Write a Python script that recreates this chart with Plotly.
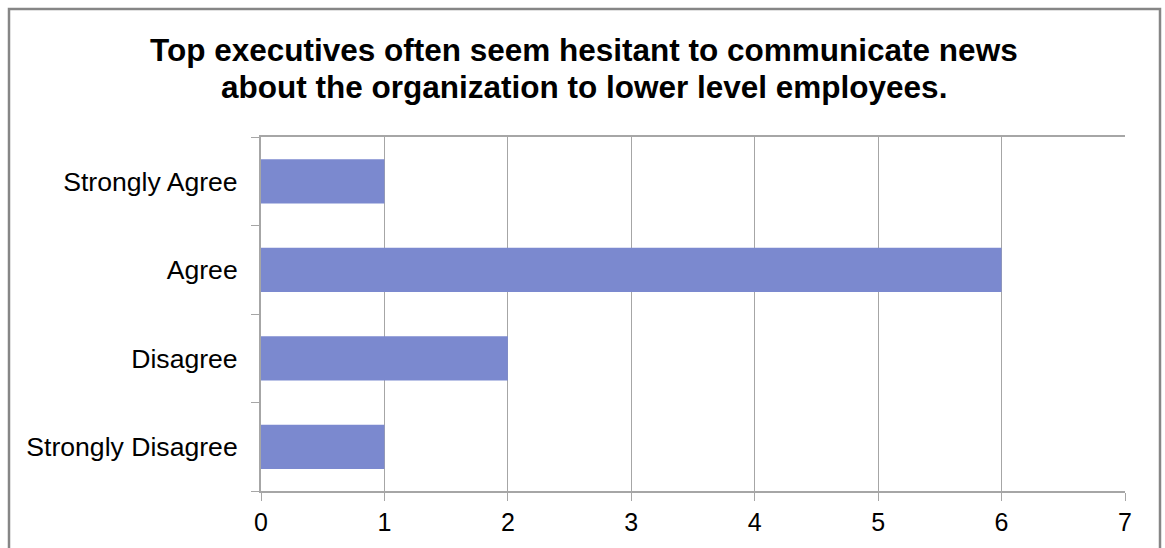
import plotly.graph_objects as go

categories = ["Strongly Agree", "Agree", "Disagree", "Strongly Disagree"]
counts = [1, 6, 2, 1]
x_ticks = [0, 1, 2, 3, 4, 5, 6, 7]
title_lines = ["Top executives often seem hesitant to communicate news",
               "about the organization to lower level employees."]

W, H = 1165, 548
L, R, T, B = 261, 40, 137, 57
pw, ph = W - L - R, H - T - B

grid = "#a6a6a6"
FONT = "Liberation Sans, Arial, sans-serif"

fig = go.Figure(go.Bar(
    x=counts, y=categories, orientation="h",
    marker=dict(color="#7b89cf", line=dict(width=0)),
    hoverinfo="x+y",
))

def px_x(p):
    return (p - L) / pw

def px_y(p):
    return (H - B - p) / ph

annotations = []
for line, yc in zip(title_lines, [50, 87]):
    annotations.append(dict(
        text="<b>" + line + "</b>", showarrow=False,
        xref="paper", yref="paper", x=px_x(584), y=px_y(yc),
        xanchor="center", yanchor="middle",
        font=dict(size=31.5, family=FONT, color="black"),
    ))

fig.update_layout(
    width=W, height=H,
    margin=dict(l=L, r=R, t=T, b=B, pad=0),
    paper_bgcolor="white", plot_bgcolor="white",
    bargap=0.5,
    showlegend=False,
    font=dict(family=FONT, color="black", size=26),
    annotations=annotations,
    xaxis=dict(
        range=[0, 7], tickvals=x_ticks, ticktext=[str(v) for v in x_ticks],
        showgrid=True, gridcolor=grid, gridwidth=1,
        showline=True, linecolor=grid, linewidth=2, mirror=True,
        ticks="outside", ticklen=8, tickcolor=grid, tickwidth=1,
        tickfont=dict(size=25), zeroline=False, fixedrange=True,
    ),
    yaxis=dict(
        categoryorder="array", categoryarray=categories[::-1],
        tickson="boundaries", ticks="outside", ticklen=8, tickcolor=grid, tickwidth=1,
        showgrid=False, showline=True, linecolor=grid, linewidth=2,
        tickfont=dict(size=26.6), ticklabelstandoff=16, fixedrange=True,
    ),
    shapes=[dict(
        type="rect", xref="paper", yref="paper",
        x0=px_x(9), x1=px_x(1160), y0=px_y(570), y1=px_y(9),
        line=dict(color="#868686", width=2.5), fillcolor="rgba(0,0,0,0)",
        layer="below",
    )],
)

fig.write_html("out.html")
